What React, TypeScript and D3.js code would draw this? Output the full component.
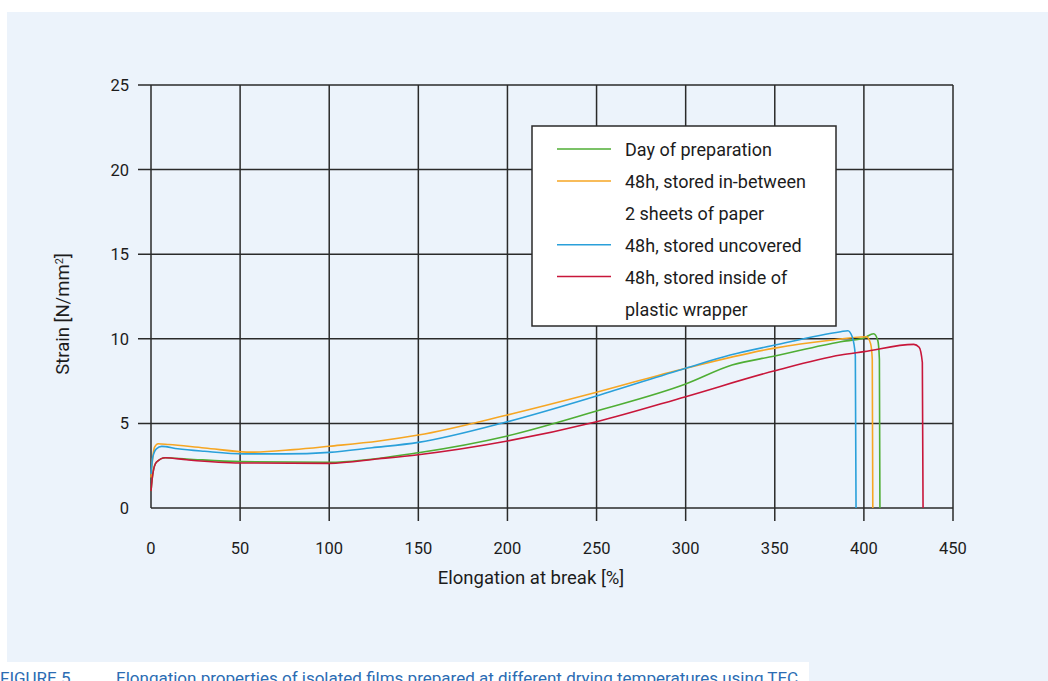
import { useMemo } from "react";
import * as d3 from "d3";

type Pt = [number, number];

// elongation [%], strain [N/mm²]
const dayOfPreparation: Pt[] = [
  [0, 1.0], [1, 2.0], [3, 2.7], [8, 2.97], [20, 2.9], [50, 2.74], [100, 2.7],
  [150, 3.27], [200, 4.26], [250, 5.73], [300, 7.33], [326, 8.45], [350, 8.98],
  [387, 9.83], [400, 10.05], [405.5, 10.3], [407.8, 9.9], [408.7, 8.8], [409, 0],
];
const storedPaper: Pt[] = [
  [0, 1.8], [1, 3.0], [2, 3.6], [4, 3.8], [10, 3.75], [30, 3.55], [57, 3.3],
  [80, 3.45], [100, 3.65], [128, 3.96], [150, 4.31], [200, 5.5], [250, 6.84],
  [300, 8.26], [350, 9.45], [380, 9.9], [401.5, 10.12], [403.8, 9.7],
  [404.7, 8.8], [405, 0],
];
const storedUncovered: Pt[] = [
  [0, 2.0], [1, 3.0], [3, 3.5], [6, 3.64], [15, 3.5], [30, 3.35], [52, 3.2],
  [75, 3.2], [100, 3.29], [124, 3.56], [150, 3.88], [200, 5.1], [250, 6.62],
  [300, 8.26], [325, 9.04], [350, 9.63], [387, 10.42], [391, 10.48],
  [393.5, 10.1], [395.2, 9.0], [395.6, 0],
];
const storedWrapper: Pt[] = [
  [0, 1.0], [1, 2.0], [3, 2.7], [8, 2.97], [20, 2.85], [50, 2.66], [100, 2.64],
  [128, 2.91], [150, 3.15], [200, 3.96], [250, 5.1], [300, 6.58], [350, 8.11],
  [387, 9.04], [400, 9.24], [428, 9.67], [431, 9.5], [432.8, 8.6], [433.2, 0],
];

const seriesNames = [
  ["Day of preparation"],
  ["48h, stored in-between", "2 sheets of paper"],
  ["48h, stored uncovered"],
  ["48h, stored inside of", "plastic wrapper"],
];
const seriesData = [dayOfPreparation, storedPaper, storedUncovered, storedWrapper];
const seriesColors = ["#4fae34", "#f6a623", "#2aa0da", "#c8163a"];

const xTicks = [0, 50, 100, 150, 200, 250, 300, 350, 400, 450];
const yTicks = [0, 5, 10, 15, 20, 25];

const FONT = "'Liberation Sans Narrow', 'Roboto', sans-serif";
const INK = "#1c1c1c";
const GRID = "#2a2a2a";

export default function App() {
  const x = useMemo(() => d3.scaleLinear().domain([0, 450]).range([151, 953]), []);
  const y = useMemo(() => d3.scaleLinear().domain([0, 25]).range([508, 85]), []);
  const line = d3
    .line<Pt>()
    .x((d) => x(d[0]))
    .y((d) => y(d[1]))
    .curve(d3.curveMonotoneX);

  // legend rows: one line per text row
  let row = 0;
  const legendRows: { text: string; color: string | null; i: number }[] = [];
  seriesNames.forEach((names, si) => {
    names.forEach((t, k) => {
      legendRows.push({ text: t, color: k === 0 ? seriesColors[si] : null, i: row++ });
    });
  });

  return (
    <div style={{ position: "fixed", left: 0, top: 0 }}>
      <svg width={1048} height={681} style={{ display: "block" }}>
        <rect x={0} y={0} width={1048} height={681} fill="#fff" />
        <rect x={7} y={12} width={1041} height={669} fill="#ecf3fb" />
        <rect x={0} y={662} width={809} height={19} fill="#fff" />

        {/* grid */}
        {xTicks.map((t) => (
          <line key={"gx" + t} x1={x(t)} x2={x(t)} y1={y(25)} y2={t === 0 ? y(0) : y(0) + 13}
            stroke={GRID} strokeWidth={1.5} />
        ))}
        {yTicks.map((t) => (
          <line key={"gy" + t} x1={t === 0 ? x(0) : x(0) - 13} x2={x(450)} y1={y(t)} y2={y(t)}
            stroke={GRID} strokeWidth={1.5} />
        ))}

        {/* tick labels */}
        {xTicks.map((t) => (
          <text key={"lx" + t} x={x(t)} y={554} textAnchor="middle" fontFamily={FONT}
            fontSize={16.5} fill={INK}>{t}</text>
        ))}
        {yTicks.map((t) => (
          <text key={"ly" + t} x={129} y={y(t) + 6} textAnchor="end" fontFamily={FONT}
            fontSize={16.5} fill={INK}>{t}</text>
        ))}

        <text x={531} y={584} textAnchor="middle" fontFamily={FONT} fontSize={18.5} fill={INK}>
          Elongation at break [%]
        </text>
        <text transform="translate(69,314) rotate(-90)" textAnchor="middle" fontFamily={FONT}
          fontSize={18.5} fill={INK}>
          Strain [N/mm<tspan baselineShift="super" fontSize={11}>2</tspan>]
        </text>

        {/* curves */}
        {seriesData.map((d, i) => (
          <path key={"s" + i} d={line(d) ?? ""} fill="none" stroke={seriesColors[i]}
            strokeWidth={1.6} />
        ))}

        {/* legend */}
        <rect x={532} y={126} width={304} height={200} fill="#fff" stroke={GRID} strokeWidth={1.5} />
        {legendRows.map((r) => (
          <g key={"lg" + r.i} transform={`translate(0,${149 + r.i * 31.9})`}>
            {r.color && <line x1={557} x2={611} y1={0} y2={0} stroke={r.color} strokeWidth={1.5} />}
            <text x={625} y={7} fontFamily={FONT} fontSize={18} fill={INK}>{r.text}</text>
          </g>
        ))}

        {/* caption */}
        <text x={0} y={684} fontFamily={FONT} fontSize={17} fill="#2b6cb3">FIGURE 5</text>
        <text x={116} y={684} fontFamily={FONT} fontSize={17} fill="#2b6cb3">
          Elongation properties of isolated films prepared at different drying temperatures using TEC
        </text>
      </svg>
    </div>
  );
}
